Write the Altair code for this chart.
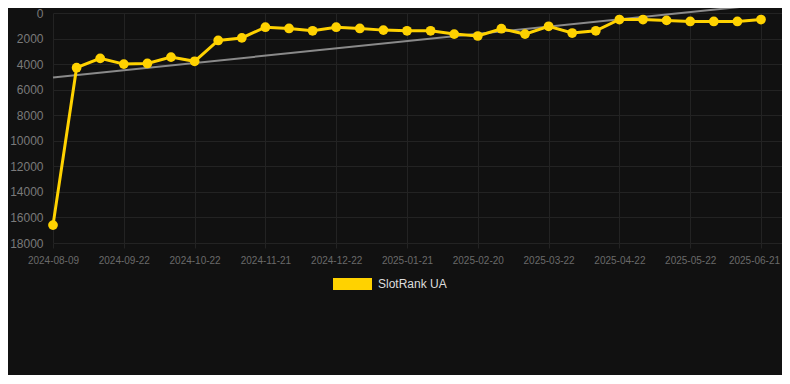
import json
import altair as alt
import pandas as pd

dates = [
    "2024-08-09", "2024-08-23", "2024-09-06", "2024-09-22", "2024-10-02", "2024-10-12",
    "2024-10-22", "2024-11-01", "2024-11-11", "2024-11-21", "2024-12-01", "2024-12-11",
    "2024-12-22", "2025-01-01", "2025-01-11", "2025-01-21", "2025-01-31", "2025-02-10",
    "2025-02-20", "2025-03-02", "2025-03-12", "2025-03-22", "2025-04-01", "2025-04-11",
    "2025-04-22", "2025-05-02", "2025-05-12", "2025-05-22", "2025-06-01", "2025-06-11",
    "2025-06-21",
]
ranks = [
    16600, 4280, 3550, 4000, 3950, 3450, 3780, 2150, 1950, 1110, 1210, 1390, 1110, 1210,
    1340, 1390, 1390, 1650, 1800, 1230, 1650, 1040, 1570, 1390, 510, 510, 580, 660, 660,
    660, 510,
]
series_name = "SlotRank UA"
y_ticks = [0, 2000, 4000, 6000, 8000, 10000, 12000, 14000, 16000, 18000]

df = pd.DataFrame({"idx": list(range(len(dates))), "date": dates, "rank": ranks})
tick_idx = list(range(0, len(dates), 3))
tick_labels = [dates[i] for i in tick_idx]
label_expr = json.dumps(tick_labels) + "[round(datum.value/3)]"

FONT = "Liberation Sans"
GRID = "#232323"
YELLOW = "#FFD200"

x_enc = alt.X(
    "idx:Q",
    scale=alt.Scale(domain=[0, 30.89], nice=False, zero=False),
    axis=alt.Axis(
        values=tick_idx, labelExpr=label_expr, title=None, domain=False,
        grid=True, gridColor=GRID, ticks=True, tickColor=GRID, tickSize=5,
        labelPadding=7, labelFontSize=10, labelColor="#6a6a6a", labelFont=FONT,
        labelOverlap=False, labelFlush=False,
        labelOffset={"condition": {"test": "datum.value >= 30", "value": -7}, "value": 0},
    ),
)
y_enc = alt.Y(
    "rank:Q",
    scale=alt.Scale(domain=[0, 18000], reverse=True, nice=False),
    axis=alt.Axis(
        values=y_ticks, format="d", title=None, domain=False, ticks=False, grid=True,
        gridColor=GRID, labelPadding=10, labelFontSize=12, labelColor="#7a7a7a",
        labelFont=FONT,
    ),
)

base = alt.Chart(df)

trend = base.transform_regression("idx", "rank", method="linear", extent=[0, 30]).mark_line(
    color="#8a8a8a", strokeWidth=2, clip=False
).encode(x=x_enc, y=y_enc)

line = base.mark_line(color=YELLOW, strokeWidth=3).encode(x=x_enc, y=y_enc)

points = base.mark_point(filled=True, size=95, opacity=1).encode(
    x=x_enc,
    y=y_enc,
    color=alt.Color(
        "series:N",
        scale=alt.Scale(domain=[series_name], range=[YELLOW]),
        legend=alt.Legend(
            title=None, orient="none", legendX=293.5, legendY=265, padding=0,
            symbolType="M-3.25,-1H3.25V1H-3.25Z", symbolSize=144, symbolStrokeWidth=0,
            symbolOpacity=1, labelOffset=19.5, labelFontSize=12, labelColor="#dddddd",
            labelFont=FONT,
        ),
    ),
).transform_calculate(series=f"'{series_name}'")

chart = (
    alt.layer(trend, line, points)
    .properties(
        width=729,
        height=230,
        background="#111111",
        padding={"left": 45, "top": 5, "right": 0, "bottom": 132},
        autosize=alt.AutoSizeParams(type="none"),
    )
    .configure_view(stroke=None)
)

chart.save("out.html", embed_options={"renderer": "svg", "actions": False})
